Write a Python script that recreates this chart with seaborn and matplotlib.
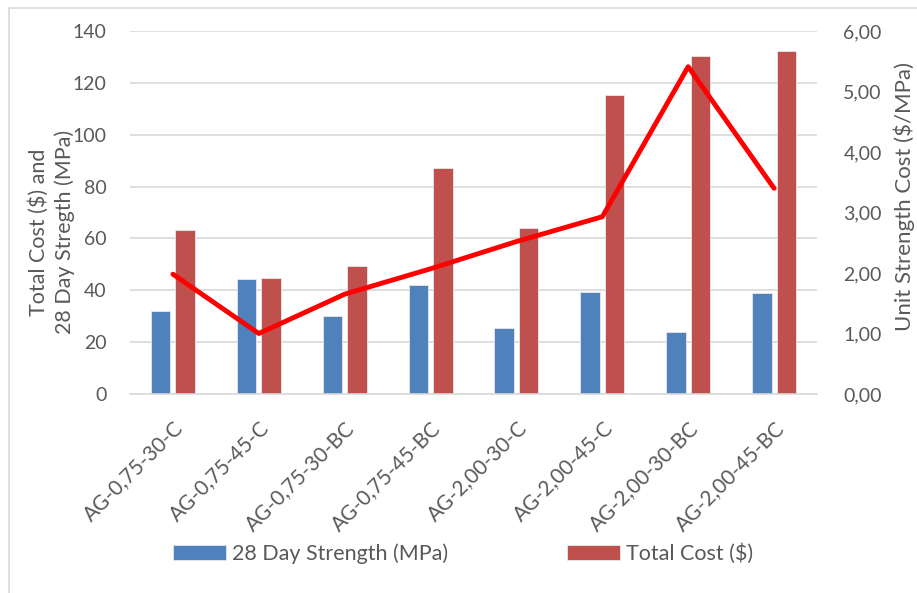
import matplotlib
matplotlib.use("Agg")
import matplotlib.pyplot as plt
import matplotlib.ticker as mticker
from matplotlib.lines import Line2D
import seaborn as sns
import pandas as pd

# Mix designs and measured values
mixes = ["AG-0,75-30-C", "AG-0,75-45-C", "AG-0,75-30-BC", "AG-0,75-45-BC",
         "AG-2,00-30-C", "AG-2,00-45-C", "AG-2,00-30-BC", "AG-2,00-45-BC"]
strength_mpa = [32.0, 44.5, 30.0, 42.1, 25.5, 39.4, 24.1, 38.9]
total_cost = [63.4, 44.7, 49.5, 87.0, 64.2, 115.3, 130.5, 132.2]
unit_cost = [1.98, 1.00, 1.65, 2.07, 2.52, 2.93, 5.41, 3.40]

strength_name = "28 Day Strength (MPa)"
cost_name = "Total Cost ($)"

long_df = pd.DataFrame({
    "mix": mixes * 2,
    "value": strength_mpa + total_cost,
    "series": [strength_name] * len(mixes) + [cost_name] * len(mixes),
})
line_df = pd.DataFrame({"mix": mixes, "unit": unit_cost})

sns.set_theme(style="white")
plt.rcParams["font.family"] = ["Lato", "DejaVu Sans"]
text_gray = "#595959"
grid_gray = "#D9D9D9"
tick_fs = 14
label_fs = 15.5

W, H = 917, 593
fig = plt.figure(figsize=(W / 100, H / 100), dpi=100)
ax = fig.add_axes([130 / W, 1 - 394 / H, (817 - 130) / W, (394 - 31) / H])

sns.barplot(data=long_df, x="mix", y="value", hue="series", ax=ax,
            palette=["#4F81BD", "#C0504D"], width=0.57, gap=0.2,
            edgecolor="#E8E8E8", linewidth=0.6, saturation=1, legend=True)

ax.set_ylim(0, 140)
ax.set_yticks(range(0, 141, 20))
ax.yaxis.grid(True, color=grid_gray, linewidth=1.2)
ax.set_axisbelow(True)
for side in ["top", "right", "left"]:
    ax.spines[side].set_visible(False)
ax.spines["bottom"].set_color(grid_gray)
ax.spines["bottom"].set_linewidth(1.2)
ax.tick_params(axis="both", length=0, colors=text_gray, labelsize=tick_fs)
ax.tick_params(axis="y", pad=17)
ax.tick_params(axis="x", pad=17, labelsize=15)
ax.set_xlabel("")
ax.set_ylabel("Total Cost ($) and\n28 Day Stregth (MPa)", color=text_gray,
              fontsize=label_fs, linespacing=1.35)
ax.yaxis.set_label_coords(-0.08, 0.446)
for lbl in ax.get_xticklabels():
    lbl.set_rotation(45)
    lbl.set_ha("right")
    lbl.set_rotation_mode("anchor")
ax.set_xlim(-0.5, len(mixes) - 0.5)

ax2 = ax.twinx()
sns.lineplot(data=line_df, x="mix", y="unit", ax=ax2, color="#FF0000",
             linewidth=3.5, sort=False, legend=False)
ax2.set_ylim(0, 6)
ax2.set_yticks(range(0, 7))
ax2.yaxis.set_major_formatter(mticker.FuncFormatter(lambda v, p: f"{v:.2f}".replace(".", ",")))
for side in ["top", "right", "left", "bottom"]:
    ax2.spines[side].set_visible(False)
ax2.tick_params(axis="y", length=0, colors=text_gray, labelsize=tick_fs, pad=19)
ax2.set_ylabel("Unit Strength Cost ($/MPa)", color=text_gray, fontsize=label_fs + 0.5)
ax2.yaxis.set_label_coords(1.112, 0.545)
ax2.set_xlabel("")
ax2.set_xlim(-0.5, len(mixes) - 0.5)

leg = ax.legend(loc="center", bbox_to_anchor=(0.485, -0.44), ncol=2, frameon=False,
                fontsize=15.5, handlelength=2.45, handleheight=0.65,
                columnspacing=5.5, handletextpad=0.3)
for t in leg.get_texts():
    t.set_color(text_gray)

# Chart frame: left and top edges
fig.add_artist(Line2D([8.5 / W, 8.5 / W], [0, 1 - 7.5 / H], transform=fig.transFigure,
                      color=grid_gray, linewidth=1.2))
fig.add_artist(Line2D([8.5 / W, 1], [1 - 7.5 / H, 1 - 7.5 / H], transform=fig.transFigure,
                      color=grid_gray, linewidth=1.2))

fig.savefig("out.png", dpi=100)
